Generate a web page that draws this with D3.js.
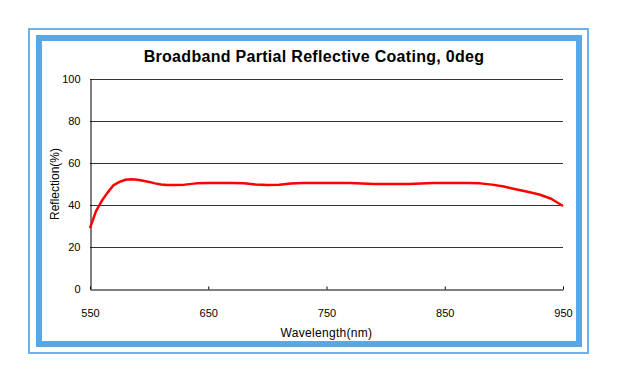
<!DOCTYPE html>
<html>
<head>
<meta charset="utf-8">
<script src="https://cdn.jsdelivr.net/npm/d3@7"></script>
<style>
  body { margin: 0; background: #ffffff; }
  svg { display: block; font-family: "Liberation Sans", Arial, sans-serif; }
</style>
</head>
<body>
<svg id="chart" width="618" height="384"></svg>
<script>

// reflection curve
var wavelength = [ 550, 555, 560, 565, 570, 575, 580, 585, 590, 595, 600, 605, 610, 615, 620,
    630, 640, 650, 660, 670, 680, 690, 700, 710, 720, 730, 740, 750, 760, 770, 780, 790,
    800, 810, 820, 830, 840, 850, 860, 870, 880, 890, 900, 910, 920, 930, 940, 950 ];
var reflection = [ 29, 37, 42, 46, 49.5, 51, 52, 52.3, 52, 51.5, 51, 50.3, 49.8, 49.5, 49.5,
    49.7, 50.3, 50.5, 50.5, 50.5, 50.3, 49.8, 49.5, 49.7, 50.2, 50.5, 50.5, 50.5, 50.5, 50.5, 50.2, 50,
    50, 50, 50, 50.2, 50.5, 50.5, 50.5, 50.5, 50.3, 49.7, 48.8, 47.5, 46.3, 45, 43, 39.5 ];

var xTicks = [ 550, 650, 750, 850, 950 ];
var yTicks = [ 0, 20, 40, 60, 80, 100 ];

var title = 'Broadband Partial Reflective Coating, 0deg';

var svg = d3.select('#chart');

// blue frame: thin outer line + thick inner band
svg.append('rect')
    .attr('x', 29).attr('y', 29)
    .attr('width', 559).attr('height', 324)
    .attr('fill', 'none')
    .attr('stroke', '#6db2ec')
    .attr('stroke-width', 2);

svg.append('rect')
    .attr('x', 39).attr('y', 38)
    .attr('width', 540).attr('height', 306)
    .attr('fill', '#ffffff')
    .attr('stroke', '#5aa7e6')
    .attr('stroke-width', 6);

var plotLeft = 90, plotRight = 563, plotTop = 79, plotBottom = 289;

var x = d3.scaleLinear()
    .domain([ 550, 950 ])
    .range([ plotLeft, plotRight ]);

var y = d3.scaleLinear()
    .domain([ 0, 100 ])
    .range([ plotBottom, plotTop ]);

// gridlines
svg.append('g')
    .selectAll('line')
    .data( yTicks.filter( function ( d ) { return d > 0; } ) )
    .enter().append('line')
    .attr('x1', plotLeft).attr('x2', plotRight)
    .attr('y1', function ( d ) { return y( d ) + 0.5; })
    .attr('y2', function ( d ) { return y( d ) + 0.5; })
    .attr('stroke', '#333333')
    .attr('stroke-width', 1);

// x axis, ticks pointing up
var xAxis = svg.append('g')
    .attr('transform', 'translate(0,' + ( plotBottom + 0.5 ) + ')')
    .call( d3.axisBottom( x ).tickValues( xTicks ).tickSizeInner( -3 ).tickSizeOuter( 0 ).tickPadding( 20 ) );

xAxis.select('.domain').attr('stroke', '#000000');
xAxis.selectAll('.tick line').attr('stroke', '#000000');
xAxis.selectAll('.tick text')
    .attr('fill', '#000000')
    .style('font-size', '11px');

// y axis, no tick marks
var yAxis = svg.append('g')
    .attr('transform', 'translate(' + ( plotLeft + 0.5 ) + ',0)')
    .call( d3.axisLeft( y ).tickValues( yTicks ).tickSize( 0 ).tickPadding( 10 ) );

yAxis.select('.domain').attr('stroke', '#000000');
yAxis.selectAll('.tick text')
    .attr('fill', '#000000')
    .style('font-size', '11px');

// curve
var line = d3.line()
    .x( function ( d, i ) { return x( wavelength[ i ] ); })
    .y( function ( d ) { return y( d ); });

svg.append('path')
    .datum( reflection )
    .attr('d', line)
    .attr('fill', 'none')
    .attr('stroke', '#ff0000')
    .attr('stroke-width', 2.5)
    .attr('stroke-linejoin', 'round');

// texts
svg.append('text')
    .attr('x', 314).attr('y', 62)
    .attr('text-anchor', 'middle')
    .style('font-size', '16px')
    .style('font-weight', 'bold')
    .style('letter-spacing', '0.3px')
    .text( title );

svg.append('text')
    .attr('x', ( plotLeft + plotRight ) / 2).attr('y', 337)
    .attr('text-anchor', 'middle')
    .style('font-size', '12px')
    .style('letter-spacing', '0.3px')
    .text('Wavelength(nm)');

svg.append('text')
    .attr('transform', 'translate(59,' + ( ( plotTop + plotBottom ) / 2 ) + ') rotate(-90)')
    .attr('text-anchor', 'middle')
    .style('font-size', '12px')
    .text('Reflection(%)');

</script>
</body>
</html>
